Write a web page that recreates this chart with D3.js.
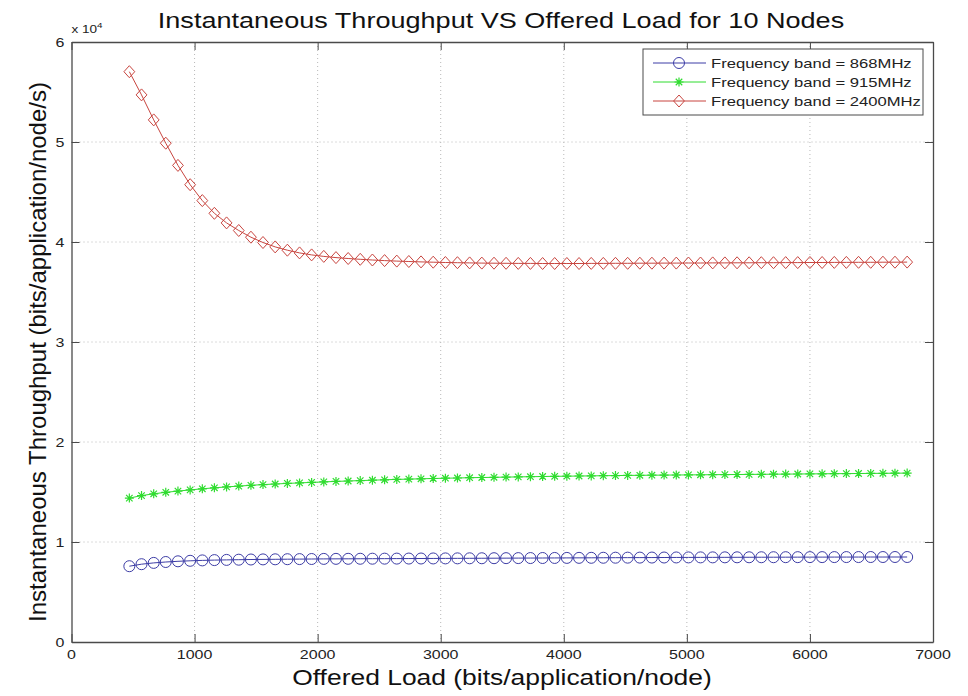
<!DOCTYPE html>
<html>
<head>
<meta charset="utf-8">
<script src="https://cdn.jsdelivr.net/npm/d3@7"></script>
<style>
  body { margin: 0; background: #fff; }
  svg { display: block; font-family: "Liberation Sans", Arial, sans-serif; }
</style>
</head>
<body>
<svg id="chart" width="968" height="696"></svg>
<script>
// Offered load (bits/application/node)
const offeredLoad = [470, 569, 668, 766, 865, 964, 1063, 1161, 1260, 1359, 1458, 1556, 1655, 1754, 1853, 1951,
  2050, 2149, 2248, 2346, 2445, 2544, 2643, 2741, 2840, 2939, 3038, 3136, 3235, 3334, 3433, 3531,
  3630, 3729, 3828, 3926, 4025, 4124, 4223, 4321, 4420, 4519, 4618, 4716, 4815, 4914, 5013, 5111,
  5210, 5309, 5408, 5506, 5605, 5704, 5803, 5901, 6000, 6099, 6198, 6296, 6395, 6494, 6593, 6691, 6790];

// Instantaneous throughput (bits/application/node/s) per frequency band
const band868 = [7580, 7780, 7910, 8000, 8070, 8120, 8160, 8190, 8210, 8230, 8250, 8260, 8270, 8280, 8290, 8300,
  8310, 8315, 8320, 8325, 8330, 8335, 8340, 8345, 8350, 8355, 8360, 8365, 8370, 8375, 8380, 8385,
  8390, 8395, 8400, 8405, 8410, 8415, 8420, 8425, 8430, 8435, 8440, 8445, 8450, 8455, 8458, 8461,
  8464, 8467, 8470, 8473, 8476, 8479, 8482, 8485, 8487, 8489, 8491, 8493, 8495, 8497, 8498, 8499, 8500];

const band915 = [14390, 14640, 14820, 14970, 15090, 15210, 15320, 15420, 15510, 15590, 15670, 15740, 15800, 15860, 15910, 15960,
  16010, 16060, 16100, 16140, 16180, 16220, 16260, 16290, 16320, 16350, 16380, 16400, 16430, 16450, 16470, 16490,
  16510, 16530, 16550, 16570, 16580, 16600, 16610, 16630, 16640, 16660, 16670, 16680, 16690, 16700, 16710, 16720,
  16730, 16740, 16750, 16760, 16770, 16780, 16790, 16800, 16810, 16820, 16830, 16840, 16850, 16860, 16870, 16880, 16890];

const band2400 = [57030, 54710, 52210, 49880, 47660, 45730, 44140, 42870, 41910, 41150, 40480, 39950, 39510, 39180, 38910, 38710,
  38560, 38440, 38350, 38270, 38200, 38140, 38090, 38050, 38010, 37980, 37950, 37930, 37910, 37890, 37880, 37870,
  37860, 37860, 37850, 37850, 37850, 37850, 37860, 37860, 37870, 37870, 37880, 37880, 37890, 37890, 37900, 37900,
  37910, 37910, 37920, 37920, 37930, 37930, 37940, 37940, 37950, 37950, 37960, 37960, 37970, 37970, 37980, 37980, 37990];

const seriesNames = ["Frequency band = 868MHz", "Frequency band = 915MHz", "Frequency band = 2400MHz"];
const xTicks = [0, 1000, 2000, 3000, 4000, 5000, 6000, 7000];
const yTicks = [0, 10000, 20000, 30000, 40000, 50000, 60000];

const series = [
  { name: seriesNames[0], values: band868, color: "#3d3da6", marker: "circle" },
  { name: seriesNames[1], values: band915, color: "#2fdc2f", marker: "star" },
  { name: seriesNames[2], values: band2400, color: "#c8453f", marker: "diamond" }
];

const svg = d3.select("#chart");
const m = { left: 71.5, right: 933, top: 42, bottom: 642 };
const stretch = 1.23; // wide lettering used throughout the figure

const x = d3.scaleLinear().domain([0, 7000]).range([m.left, m.right]);
const y = d3.scaleLinear().domain([0, 60000]).range([m.bottom, m.top]);

const axisColor = "#4a4a4a";

// horizontally widened text anchored at (px, py)
function wideText(parent, px, py, str, size, anchor) {
  return parent.append("text")
    .attr("transform", `translate(${px},${py}) scale(${stretch},1)`)
    .attr("text-anchor", anchor || "start")
    .attr("font-size", size).attr("fill", "#111").text(str);
}

// dotted grid
const grid = svg.append("g");
xTicks.slice(1, -1).forEach(t => {
  grid.append("line").attr("x1", x(t)).attr("x2", x(t)).attr("y1", m.top).attr("y2", m.bottom)
    .attr("stroke", "#b8b8b8").attr("stroke-width", 1).attr("stroke-dasharray", "1,3");
});
yTicks.slice(1, -1).forEach(t => {
  grid.append("line").attr("x1", m.left).attr("x2", m.right).attr("y1", y(t)).attr("y2", y(t))
    .attr("stroke", "#b8b8b8").attr("stroke-width", 1).attr("stroke-dasharray", "1,3");
});

// axes with inward ticks on all four sides
const tickLen = 8;
const xAxis = svg.append("g").attr("transform", `translate(0,${m.bottom})`)
  .call(d3.axisBottom(x).tickValues(xTicks).tickSizeInner(-tickLen).tickSizeOuter(0).tickFormat(""));
const xAxisTop = svg.append("g").attr("transform", `translate(0,${m.top})`)
  .call(d3.axisTop(x).tickValues(xTicks).tickSizeInner(-tickLen).tickSizeOuter(0).tickFormat(""));
const yAxis = svg.append("g").attr("transform", `translate(${m.left},0)`)
  .call(d3.axisLeft(y).tickValues(yTicks).tickSizeInner(-tickLen).tickSizeOuter(0).tickFormat(""));
const yAxisRight = svg.append("g").attr("transform", `translate(${m.right},0)`)
  .call(d3.axisRight(y).tickValues(yTicks).tickSizeInner(-tickLen).tickSizeOuter(0).tickFormat(""));

[xAxis, xAxisTop, yAxis, yAxisRight].forEach(g => {
  g.select(".domain").attr("stroke", axisColor).attr("stroke-width", 1.3);
  g.selectAll(".tick line").attr("stroke", axisColor).attr("stroke-width", 1);
});

// tick labels, positioned by the same scales
const tickLabels = svg.append("g").attr("fill", "#222");
xTicks.forEach(t => wideText(tickLabels, x(t), 659, d3.format("d")(t), 13, "middle").attr("fill", "#222"));
yTicks.forEach(t => wideText(tickLabels, m.left - 7, y(t) + 4.6, String(t / 10000), 13, "end").attr("fill", "#222"));

// exponent note above the y axis
const expo = svg.append("text")
  .attr("transform", `translate(${m.left},33) scale(${stretch},1)`)
  .attr("font-size", 11).attr("fill", "#222");
expo.append("tspan").text("x 10");
expo.append("tspan").attr("dy", -5).attr("font-size", 8).text("4");

// data lines and markers
const line = d3.line().x((d, i) => x(offeredLoad[i])).y(d => y(d));

function drawMarker(g, type, cx, cy, color) {
  if (type === "circle") {
    g.append("circle").attr("cx", cx).attr("cy", cy).attr("r", 5.5)
      .attr("fill", "none").attr("stroke", color).attr("stroke-width", 1);
  } else if (type === "diamond") {
    const r = 6;
    g.append("path").attr("d", `M${cx},${cy - r}L${cx + r * 0.9},${cy}L${cx},${cy + r}L${cx - r * 0.9},${cy}Z`)
      .attr("fill", "none").attr("stroke", color).attr("stroke-width", 1);
  } else {
    const r = 4.5, d = r * 0.72;
    g.append("path").attr("d",
      `M${cx - r},${cy}L${cx + r},${cy}M${cx},${cy - r}L${cx},${cy + r}` +
      `M${cx - d},${cy - d}L${cx + d},${cy + d}M${cx - d},${cy + d}L${cx + d},${cy - d}`)
      .attr("fill", "none").attr("stroke", color).attr("stroke-width", 1.2);
  }
}

series.forEach(s => {
  const g = svg.append("g");
  g.append("path").datum(s.values).attr("d", line)
    .attr("fill", "none").attr("stroke", s.color).attr("stroke-width", 1);
  s.values.forEach((v, i) => drawMarker(g, s.marker, x(offeredLoad[i]), y(v), s.color));
});

// legend
const lg = svg.append("g");
const lgX = 643, lgY = 49, lgW = 280, lgH = 66;
lg.append("rect").attr("x", lgX).attr("y", lgY).attr("width", lgW).attr("height", lgH)
  .attr("fill", "#fff").attr("stroke", axisColor).attr("stroke-width", 1);
series.forEach((s, i) => {
  const cy = lgY + 14 + i * 19;
  lg.append("line").attr("x1", lgX + 10).attr("x2", lgX + 63).attr("y1", cy).attr("y2", cy)
    .attr("stroke", s.color).attr("stroke-width", 1);
  drawMarker(lg, s.marker, lgX + 36, cy, s.color);
  wideText(lg, lgX + 68, cy + 4.8, s.name, 13.5, "start").attr("fill", "#222");
});

// titles
wideText(svg, 501, 28, "Instantaneous Throughput VS Offered Load for 10 Nodes", 22, "middle");
wideText(svg, 502, 685, "Offered Load (bits/application/node)", 21.5, "middle");
svg.append("text").attr("transform", `translate(46,${(m.top + m.bottom) / 2 + 10}) rotate(-90)`)
  .attr("text-anchor", "middle").attr("font-size", 24).attr("fill", "#111")
  .text("Instantaneous Throughput (bits/application/node/s)");
</script>
</body>
</html>
